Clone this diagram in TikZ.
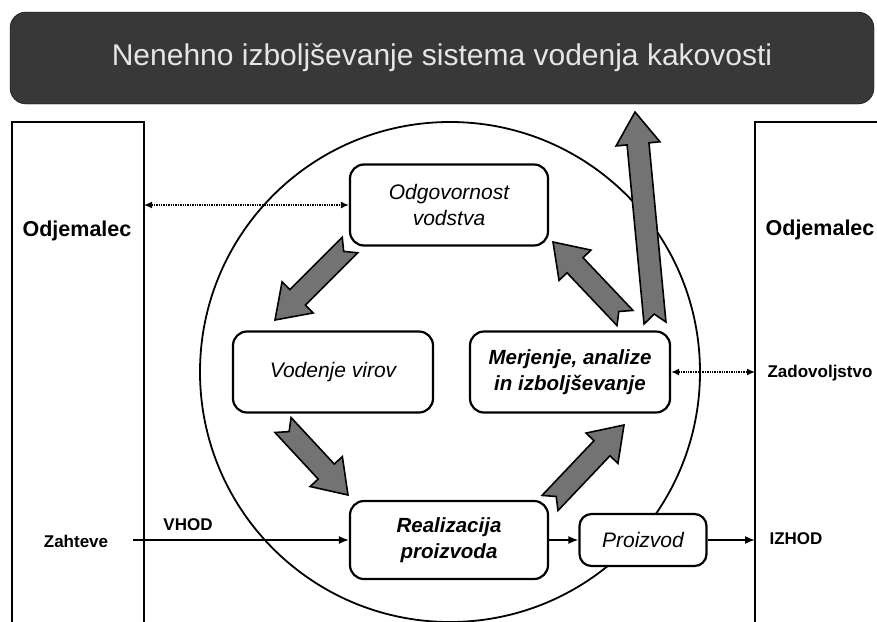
\documentclass[tikz,border=0pt]{standalone}
\usepackage{fontspec}
\setmainfont{Liberation Sans}
\usetikzlibrary{calc,arrows.meta}

% debela siva puscica z zarezo na repu (od, do)
\newcommand{\blokpuscica}[2]{%
  \coordinate (rep) at ($(#2)!32pt!(#1)$);
  \draw[blok] ($(#1)!11pt!90:(#2)$) -- ($(rep)!11pt!90:(#2)$) -- ($(rep)!22pt!90:(#2)$) -- (#2)
    -- ($(rep)!22pt!-90:(#2)$) -- ($(rep)!11pt!-90:(#2)$) -- ($(#1)!11pt!-90:(#2)$)
    -- ($(#1)!9pt!(#2)$) -- cycle;
}

\begin{document}
\begin{tikzpicture}[x=1pt,y=-1pt,
  okvir/.style={draw,line width=2.2pt,rounded corners=14pt,fill=white,align=center,
    font=\fontsize{21}{26}\selectfont\itshape},
  krepko/.style={font=\fontsize{20.5}{26}\selectfont\bfseries\itshape},
  blok/.style={draw=black,line width=1.6pt,fill=black!55,line join=miter},
  tok/.style={line width=1.6pt,-{Latex[length=10pt,width=8pt]}},
  pikcasto/.style={densely dotted,line width=1.4pt,{Latex[length=8pt,width=7pt]}-{Latex[length=8pt,width=7pt]}},
  oznaka/.style={font=\fontsize{17}{20}\selectfont\bfseries},
  odjemalec/.style={font=\fontsize{21.5}{24}\selectfont\bfseries}]

  \useasboundingbox (0,0) rectangle (877,621);

  % naslovni pas
  \node[draw=black,fill=black!78,rounded corners=16pt,minimum width=864pt,minimum height=92pt,
    text=black!10,font=\fontsize{30}{34}\selectfont] (naslov) at (442,58)
    {Nenehno izboljševanje sistema vodenja kakovosti};

  % odjemalec levo in desno
  \draw[line width=2.6pt] (12,630) -- (12,122) -- (144,122) -- (144,630);
  \draw[line width=2.2pt] (755,630) -- (755,122) -- (885,122);
  \coordinate (levirob) at (144,122);
  \coordinate (desnirob) at (755,122);

  % krog
  \draw[line width=1.8pt] (450,372) circle (250);

  % procesi
  \node[okvir,minimum width=198pt,minimum height=81pt] (odg) at (449,205) {Odgovornost\\vodstva};
  \node[okvir,minimum width=200pt,minimum height=81pt] (vir) at (333,372) {Vodenje virov};
  \node[okvir,krepko,minimum width=200pt,minimum height=81pt] (mer) at (570,372) {Merjenje, analize\\in izboljševanje};
  \node[okvir,krepko,minimum width=198pt,minimum height=78pt] (real) at (449,540) {Realizacija\\proizvoda};
  \node[okvir,rounded corners=12pt,minimum width=127pt,minimum height=52pt] (pro) at (643,540) {Proizvod};

  % besedila
  \node[odjemalec] (odj1) at (77,231) {Odjemalec};
  \node[odjemalec] (odj2) at (820,230) {Odjemalec};
  \node[oznaka] (zahteve) at (76,541) {Zahteve};
  \node[oznaka] (vhod) at (188,525) {VHOD};
  \node[oznaka] (izhod) at (796,539) {IZHOD};
  \node[oznaka] (zad) at (820,373) {Zadovoljstvo};

  % povezave
  \coordinate (vhodzac) at (133,540);
  \draw[pikcasto] (odg.west -| levirob) -- (odg.west);
  \draw[pikcasto] (mer.east) -- (mer.east -| desnirob);
  \draw[tok] (vhodzac) -- (real.west);
  \draw[tok] (real.east) -- (pro.west);
  \draw[tok] (pro.east) -- (pro.east -| desnirob);

  % krog puscic
  \coordinate (a1) at (350,245); \coordinate (b1) at (275,320);
  \coordinate (a2) at (283,425); \coordinate (b2) at (348,495);
  \coordinate (a3) at (550,503); \coordinate (b3) at (624,425);
  \coordinate (a4) at (625,318); \coordinate (b4) at (553,242);
  \coordinate (a5) at (655,323); \coordinate (b5) at (635,112);
  \blokpuscica{a1}{b1}
  \blokpuscica{a2}{b2}
  \blokpuscica{a3}{b3}
  \blokpuscica{a4}{b4}
  \blokpuscica{a5}{b5}
\end{tikzpicture}
\end{document}
